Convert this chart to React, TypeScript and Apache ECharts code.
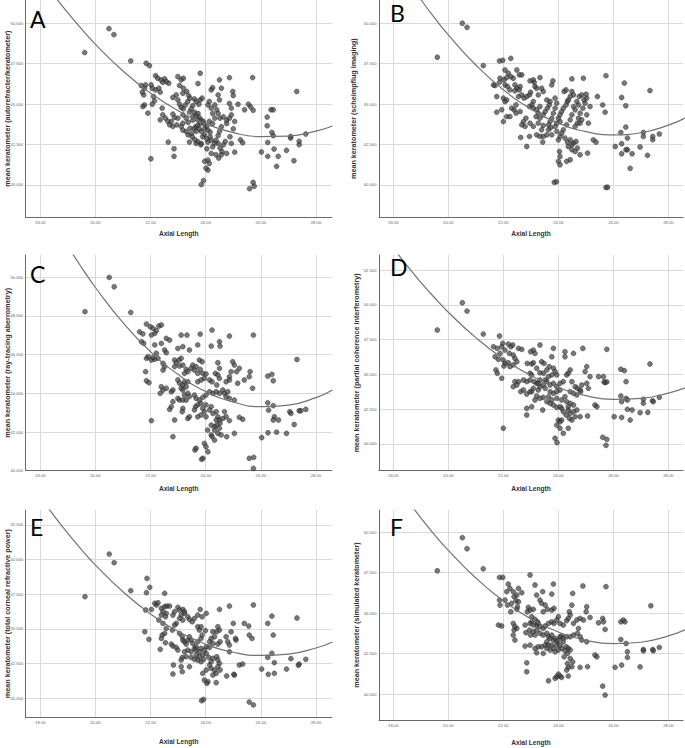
import React, { useEffect, useRef } from "react";
import * as echarts from "echarts";

// ---------- DATA ----------
const xTicks = [18, 20, 22, 24, 26, 28];
const yTicks25 = [40, 42.5, 45, 47.5, 50];
const yTicksC = [40, 42, 44, 46, 48, 50];
const yTicks25Hi = [40, 42.5, 45, 47.5, 50, 52.5];

const fitX = [18, 18.5, 19, 19.5, 20, 21, 22, 23, 24, 25, 26, 27, 28, 28.6];
const fitA = [52.85, 51.71, 50.64, 49.64, 48.7, 47.05, 45.68, 44.59, 43.78, 43.24, 42.99, 43.02, 43.33, 43.65];
const fitB = [53.99, 52.69, 51.47, 50.33, 49.28, 47.42, 45.89, 44.7, 43.83, 43.3, 43.1, 43.23, 43.7, 44.14];
const fitC = [54.05, 52.79, 51.6, 50.5, 49.47, 47.65, 46.15, 44.97, 44.1, 43.55, 43.31, 43.39, 43.78, 44.17];
const fitD = [54.08, 52.81, 51.62, 50.51, 49.47, 47.64, 46.12, 44.92, 44.04, 43.47, 43.21, 43.28, 43.66, 44.04];
const fitE = [54.51, 53.16, 51.89, 50.71, 49.61, 47.68, 46.08, 44.82, 43.9, 43.32, 43.09, 43.19, 43.63, 44.06];
const fitF = [53.19, 51.99, 50.88, 49.83, 48.87, 47.16, 45.75, 44.64, 43.83, 43.32, 43.11, 43.2, 43.59, 43.96];

const pointsA: number[][] = [
  [19.61,48.19],[20.49,49.67],[20.67,49.3],[21.28,47.67],
  [21.84,47.53],[21.96,47.38],[22.18,46.76],[22.26,46.6],[22.38,46.5],[22.51,46.56],[22.57,46.39],[22.66,46.29],[22.44,46.35],
  [21.66,46.15],[21.82,46.19],[21.78,45.98],[22.02,46.19],[22.06,45.98],[22.18,45.88],[22.3,45.98],[22.35,45.74],[21.7,45.74],
  [21.75,45.57],[22.11,45.47],[22.14,45.2],[22.06,44.99],[21.78,44.95],[21.72,44.85],[21.9,44.44],[22.42,44.75],[22.44,44.34],
  [22.54,44.13],[22.35,44.03],[22.63,43.93],[22.81,44.38],[22.87,44.17],[22.75,43.93],[22.69,43.72],[22.81,43.62],[22.95,43.72],
  [23.11,43.62],[23.17,43.82],[22.99,46.7],[23.11,46.5],[23.19,46.6],[23.05,46.15],[23.19,45.98],[23.17,45.67],[23.31,45.78],
  [23.38,45.53],[22.93,45.57],[22.81,45.41],[22.99,45.26],[23.05,44.99],[23.11,44.79],[23.19,44.71],[23.26,44.95],[23.35,45.16],
  [23.43,45.37],[23.59,45.32],[23.65,45.16],[23.75,44.99],[23.8,45.26],[23.87,45.37],[23.53,44.91],[23.47,44.71],[23.41,44.5],
  [23.59,44.5],[23.65,44.3],[23.72,44.42],[23.77,44.17],[23.84,44.01],[23.91,43.93],[23.8,43.8],[23.71,43.68],[23.63,43.6],
  [23.58,43.47],[23.77,43.47],[23.84,43.31],[23.96,43.47],[24.04,43.64],[24.08,43.39],[24.16,43.27],[23.96,43.1],[23.89,42.98],
  [24.04,42.85],[24.16,42.98],[24.2,42.77],[24.08,42.65],[23.84,42.57],[23.71,42.69],[23.6,42.81],[23.41,42.65],[23.36,43.1],
  [23.29,43.31],[23.17,43.39],[23.43,43.51],[23.48,43.18],[23.53,44.01],[23.36,43.88],[24.13,43.93],[24.25,43.8],[24.33,44.13],
  [24.25,44.42],[24.2,44.75],[24.08,44.95],[24.13,45.16],[24.2,45.88],[24.25,46.02],[24.45,45.57],[24.5,45.26],[24.57,45.98],
  [24.5,46.5],[24.86,46.64],[25.7,46.64],[23.8,46.91],[23.72,46.27],[24.33,44.95],[24.4,44.65],[24.45,44.42],[24.52,44.13],
  [24.64,44.21],[24.76,44.01],[24.86,44.13],[24.76,43.8],[24.57,43.6],[24.5,43.31],[24.45,43.06],[24.37,42.77],[24.32,42.57],
  [24.25,42.36],[24.45,42.57],[24.52,42.28],[24.59,42.07],[24.64,42.48],[24.71,42.69],[24.57,41.87],[24.47,41.66],[24.37,41.87],
  [24.2,41.95],[24.04,42.24],[24.08,41.54],[23.96,41.46],[24.13,41.33],[24.08,40.92],[24.01,41.04],[24.76,41.95],[25.05,42.03],
  [24.93,42.57],[24.88,42.98],[25.0,43.47],[25.05,43.93],[24.93,44.34],[24.93,44.75],[24.86,45.04],[25.0,45.53],[24.98,45.78],
  [25.17,44.99],[25.41,44.65],[25.55,44.99],[25.63,44.83],[25.72,44.62],[25.26,42.79],[25.34,42.61],[22.64,42.65],[22.85,42.24],
  [22.85,41.77],[22.01,41.62],[23.65,42.57],[23.82,42.48],[23.53,44.23],[23.71,44.03],[23.95,43.76],[23.65,43.31],[23.51,42.98],
  [23.17,44.34],[22.99,44.13],[23.29,44.13],
  [23.84,40.02],[23.92,40.27],[25.59,39.77],[25.72,40.16],[25.76,39.92],[26.02,42.04],[26.25,41.77],[26.25,42.63],[26.48,42.22],
  [26.57,41.15],[26.63,41.77],[26.93,42.14],[27.2,41.5],[27.08,43.0],[27.08,42.9],[27.39,42.49],[27.39,42.7],[27.63,43.15],
  [26.23,44.2],[26.23,43.66],[26.37,44.65],[26.45,44.65],[26.4,43.25],[26.45,43.05],[27.3,45.78]
];

const pointsB: number[][] = [
  [19.6,47.9],[20.51,50.0],[20.68,49.75],[21.27,47.38],[23.85,40.16],[23.93,40.2],
  [21.86,47.67],[21.98,47.71],[22.27,47.83],[22.06,47.11],[22.18,46.91],[22.12,46.64],[22.02,46.5],[21.88,46.6],[21.86,46.35],
  [21.7,46.15],[21.64,46.19],[22.06,46.19],[22.15,46.09],[22.27,46.7],[22.36,46.6],[22.49,47.11],[22.58,46.81],[22.67,46.81],
  [22.42,46.19],[22.49,45.98],[22.61,46.09],[22.58,45.88],[22.42,45.82],[22.24,45.88],[21.76,45.47],[22.0,45.37],[22.06,45.16],
  [22.12,45.26],[21.94,44.65],[21.76,44.5],[22.12,44.23],[22.0,43.92],[22.39,44.65],[22.46,44.44],[22.46,44.95],[22.55,45.47],
  [22.67,45.57],[22.75,45.37],[22.85,45.47],[22.95,45.57],[22.99,45.74],[22.97,46.44],[23.12,46.35],[23.15,46.09],[23.21,45.98],
  [23.09,46.5],[23.33,46.64],[23.39,45.98],[23.45,45.78],[23.27,45.57],[23.09,45.16],[23.03,44.95],[22.95,44.85],[23.09,44.75],
  [23.21,44.65],[23.33,44.85],[23.27,44.44],[23.19,44.23],[23.33,44.13],[23.45,44.34],[23.52,44.54],[23.6,44.75],[23.67,44.95],
  [23.7,45.16],[23.58,45.26],[23.76,46.19],[23.8,46.44],[23.88,45.37],[23.94,45.06],[23.88,44.75],[23.82,44.44],[23.76,44.13],
  [23.7,43.92],[23.64,43.72],[23.72,43.55],[23.88,43.62],[23.94,43.82],[24.06,43.92],[24.0,44.13],[24.06,44.34],[24.12,44.54],
  [24.18,44.75],[24.28,44.95],[24.33,45.16],[24.21,45.78],[24.28,45.88],[24.49,46.56],[24.49,45.78],[24.43,45.47],[24.36,45.26],
  [24.55,44.85],[24.61,44.65],[24.49,44.34],[24.43,44.03],[24.3,43.72],[24.18,43.41],[24.12,43.2],[24.06,43.0],[24.0,42.79],
  [23.94,43.31],[23.76,43.1],[23.58,43.1],[23.45,43.0],[23.33,43.0],[23.21,43.1],[22.95,43.0],[22.85,42.38],[22.63,42.94],
  [23.43,42.65],[23.64,43.41],[24.24,42.9],[24.33,42.65],[24.43,42.79],[24.49,42.48],[24.36,42.38],[24.49,42.18],[24.55,42.59],
  [24.64,42.69],[24.69,42.28],[24.61,42.07],[24.79,41.87],[25.06,41.97],[24.43,41.56],[24.3,41.46],[24.04,42.07],[24.06,41.76],
  [24.0,41.46],[24.06,41.25],[24.67,45.16],[24.73,44.95],[24.76,45.47],[24.85,45.57],[24.93,45.26],[25.03,45.37],[24.97,45.06],
  [24.89,44.75],[24.79,44.44],[24.73,44.13],[24.69,43.82],[24.61,43.62],[24.79,43.82],[24.85,44.03],[25.03,44.34],[25.09,43.82],
  [25.15,44.85],[25.01,45.61],[24.91,46.6],[24.55,45.57],[25.42,45.47],[25.61,44.95],[25.7,44.5],[25.73,46.76],[25.27,42.79],
  [25.37,42.65],[26.07,42.38],[22.97,43.82],[23.09,43.62],[22.82,44.13],[22.73,43.92],[22.67,43.72],[22.79,43.62],[22.61,44.54],
  [22.24,44.23],[22.3,44.75],[23.45,43.68],[23.27,43.82],[23.39,43.41],
  [26.4,46.3],[26.3,45.41],[26.45,44.9],[26.45,43.58],[26.27,43.25],[26.51,42.9],[26.3,42.55],[26.3,41.93],[26.46,42.18],
  [26.51,42.18],[26.68,41.93],[26.61,41.03],[26.97,42.35],[27.09,43.25],[27.09,43.0],[27.24,41.83],[27.43,43.0],[27.43,42.8],
  [27.67,43.15],[27.33,45.84],[25.73,39.84],[25.79,39.86]
];

const pointsC: number[][] = [
  [19.62,48.22],[20.5,49.99],[20.68,49.51],[21.28,48.18],
  [21.85,47.58],[21.99,47.44],[22.09,47.36],[22.3,47.48],[22.39,47.53],[22.15,47.1],[22.03,47.01],[22.21,47.24],[21.6,47.18],
  [21.72,47.07],[21.67,46.67],[21.75,46.58],[22.15,46.5],[22.39,46.58],[22.57,46.84],[22.69,46.75],[23.11,47.01],[23.32,47.01],
  [23.8,47.06],[24.23,47.27],[24.86,46.96],[25.73,47.01],[22.99,46.32],[23.17,46.41],[23.41,46.24],[23.71,46.5],[24.2,46.44],
  [24.5,46.67],[24.52,46.44],[22.51,46.24],[22.57,46.1],[22.21,46.07],[22.27,45.81],[22.15,45.76],[22.03,45.72],[21.91,45.89],
  [21.85,45.81],[22.09,45.86],[22.45,45.55],[22.51,45.38],[22.87,45.72],[22.93,45.58],[23.03,45.72],[23.11,45.81],[23.05,45.41],
  [22.87,45.38],[23.17,45.46],[23.29,45.24],[23.23,45.03],[23.35,45.12],[23.47,45.29],[23.53,45.46],[23.59,45.2],[23.65,45.38],
  [23.77,45.72],[23.87,45.63],[23.71,45.03],[23.8,45.24],[23.89,45.03],[24.01,45.0],[23.95,44.77],[23.83,44.69],[23.71,44.6],
  [24.14,44.69],[24.23,44.6],[24.35,45.03],[24.44,44.95],[24.5,45.29],[24.44,45.58],[24.4,44.43],[24.5,44.77],[24.74,44.6],
  [24.86,44.69],[24.98,45.63],[25.04,45.46],[25.12,45.12],[24.92,45.12],[24.86,44.86],[25.16,44.52],[25.4,44.69],[25.58,44.86],
  [25.61,45.12],[25.7,44.26],[25.22,45.29],[21.82,45.12],[21.85,44.65],[21.94,44.55],[22.45,45.2],[22.39,44.34],[22.45,44.17],
  [22.35,44.0],[22.57,44.26],[22.75,44.08],[22.81,44.17],[22.99,44.69],[23.05,44.52],[23.17,44.43],[23.23,44.6],[23.35,44.6],
  [23.29,44.34],[23.17,44.17],[23.11,44.26],[23.23,43.91],[23.35,44.0],[22.99,43.74],[23.05,43.65],[23.17,43.65],[23.29,43.65],
  [23.41,43.83],[23.59,43.91],[23.65,43.74],[23.77,43.65],[23.89,43.79],[24.01,43.91],[24.14,44.08],[24.26,44.0],[24.38,44.08],
  [24.5,44.0],[24.62,44.17],[24.68,44.0],[24.74,43.83],[24.8,44.08],[24.86,43.74],[25.04,43.65],[23.63,43.31],[23.71,43.4],
  [23.83,43.48],[23.89,43.22],[24.01,43.4],[24.14,43.14],[24.2,43.31],[24.26,42.96],[24.38,43.05],[24.01,42.79],[23.95,43.05],
  [23.83,42.88],[23.71,42.79],[23.59,43.14],[22.81,43.57],[22.75,43.31],[22.69,43.17],[23.17,43.22],[23.15,43.05],[23.35,42.7],
  [23.41,42.79],[22.87,42.62],[22.03,42.59],[24.44,42.79],[24.5,42.62],[24.52,42.45],[24.4,42.36],[24.32,42.28],[24.38,42.62],
  [24.62,42.7],[24.74,42.79],[24.86,42.59],[24.68,43.05],[24.5,42.19],[24.32,42.1],[24.2,41.85],[24.23,41.76],[24.07,42.1],
  [24.2,42.36],[24.44,41.93],[24.56,41.85],[24.76,41.76],[25.04,41.93],[25.22,42.76],[25.34,42.66],[22.81,41.76],[23.95,41.41],
  [24.01,41.24],[23.65,41.16],
  [23.61,41.07],[23.85,40.59],[23.9,40.64],[24.08,40.98],[24.32,41.58],[25.58,40.64],[25.74,40.69],[25.73,40.12],
  [27.31,45.75],[26.25,44.89],[26.4,44.98],[26.45,44.65],[26.25,43.51],[26.28,43.13],[26.45,43.36],[26.49,42.79],[26.45,42.62],
  [26.64,42.62],[26.03,41.71],[26.26,41.96],[26.57,41.99],[26.93,41.93],[27.05,43.05],[27.09,42.96],[27.21,42.39],[27.39,43.1],
  [27.45,43.1],[27.63,43.17]
];

const pointsD: number[][] = [
  [19.6,48.19],[20.51,50.15],[20.68,49.55],[21.27,47.9],
  [21.86,47.76],[21.64,46.99],[21.78,46.87],[21.98,47.23],[21.94,46.99],[22.06,46.75],[22.18,47.18],[22.27,46.99],[22.34,47.11],
  [22.22,46.51],[22.36,46.39],[21.88,46.51],[21.7,46.27],[21.82,46.08],[22.0,46.03],[22.06,45.79],[22.18,45.84],[22.42,46.15],
  [22.55,46.87],[22.67,46.8],[22.49,45.91],[22.36,45.68],[22.24,45.56],[21.73,45.32],[21.78,45.08],[21.94,44.72],[22.02,45.6],
  [22.99,46.63],[23.09,46.75],[23.15,46.51],[23.33,47.11],[23.82,46.87],[23.76,46.27],[24.24,46.63],[24.24,46.27],[24.55,46.51],
  [24.89,46.87],[25.76,46.8],[22.87,45.79],[23.03,45.75],[23.09,45.84],[23.39,45.91],[23.48,45.79],[23.21,45.44],[23.33,45.12],
  [23.46,45.08],[23.58,45.32],[23.67,45.56],[23.82,45.44],[23.88,45.2],[23.94,44.96],[23.76,44.96],[23.64,44.84],[23.52,44.6],
  [23.33,44.6],[23.21,44.36],[23.12,44.48],[22.97,44.6],[22.85,44.48],[22.97,45.08],[23.03,44.96],[22.73,44.6],[22.55,44.48],
  [22.49,44.24],[22.42,44.48],[22.36,44.12],[22.63,43.76],[22.73,43.88],[22.85,43.59],[22.97,43.76],[23.09,44.0],[23.27,43.88],
  [23.33,44.12],[23.45,44.24],[23.58,44.48],[23.7,44.24],[23.82,44.36],[23.94,44.12],[24.06,44.36],[24.18,44.48],[24.06,43.88],
  [23.94,43.76],[23.82,43.64],[23.7,43.76],[23.64,43.4],[23.76,43.16],[23.94,43.28],[24.12,43.16],[24.24,43.4],[24.3,43.04],
  [24.43,42.92],[24.55,42.8],[24.36,45.08],[24.43,45.32],[24.3,44.96],[24.49,44.48],[24.61,44.12],[24.69,44.0],[24.79,43.88],
  [24.85,44.24],[25.03,44.36],[24.43,43.76],[24.55,43.64],[24.67,43.52],[24.81,43.76],[25.09,44.0],[25.15,44.84],[25.03,45.56],
  [24.97,45.2],[25.46,44.84],[25.64,44.84],[25.7,44.41],[24.36,42.44],[24.43,42.2],[24.55,42.32],[24.61,41.96],[24.49,41.72],
  [24.4,41.84],[24.28,42.08],[24.18,42.32],[24.12,42.56],[24.06,42.68],[23.94,42.63],[23.82,42.8],[23.7,42.92],[23.58,43.04],
  [23.45,43.35],[23.33,43.28],[23.21,43.45],[23.15,43.16],[23.03,42.68],[23.43,42.44],[22.85,42.56],[22.85,42.08],[24.36,42.68],
  [24.67,42.44],[24.79,41.96],[25.06,42.01],[25.33,42.8],[25.4,42.68],[24.0,41.72],[24.06,41.6],[24.12,41.72],[23.94,41.36],
  [24.36,41.13],[24.18,40.77],[24.06,41.13],[22.0,41.13],[23.88,40.41],[25.61,40.48],[25.76,40.33],[26.03,41.96],[23.03,43.76],
  [23.52,44.0],[23.27,44.36],
  [23.95,40.1],[25.73,39.9],
  [26.27,45.37],[26.4,45.27],[26.46,44.48],[26.27,43.45],[26.46,43.28],[26.51,43.16],[26.3,43.04],[26.51,42.49],[26.68,42.44],
  [26.61,41.72],[26.3,41.91],[26.97,42.25],[27.09,43.21],[27.09,42.92],[27.25,42.27],[27.42,43.11],[27.45,43.04],[27.67,43.35],
  [27.33,45.75],[25.66,44.46],[25.76,44.46]
];

const pointsE: number[][] = [
  [19.62,47.33],[20.5,50.4],[20.68,49.78],
  [21.87,48.65],[21.97,48.0],[21.85,47.62],[21.28,47.76],[22.51,47.57],[21.82,46.37],[22.03,46.41],[22.15,46.85],[22.21,46.73],
  [22.27,46.89],[22.39,46.49],[22.51,46.61],[22.59,46.65],[22.69,46.65],[22.45,46.25],[22.57,46.12],[22.39,46.0],[22.3,45.64],
  [22.45,45.4],[22.54,45.88],[22.81,46.0],[22.87,46.25],[22.99,46.56],[23.05,46.37],[23.17,46.41],[23.23,46.25],[23.11,46.0],
  [23.05,45.76],[23.17,45.64],[23.23,46.12],[23.35,45.88],[23.41,45.69],[23.51,45.52],[23.59,45.76],[23.71,46.0],[23.8,46.41],
  [23.87,45.88],[24.02,46.12],[24.5,46.41],[24.86,46.65],[25.73,46.73],[22.93,45.4],[22.87,45.28],[22.79,44.92],[22.57,45.04],
  [22.51,44.68],[22.42,44.56],[22.39,44.32],[22.35,43.53],[22.54,44.01],[22.75,43.91],[22.81,43.77],[22.93,43.67],[22.99,43.48],
  [23.05,44.68],[23.15,44.44],[23.17,44.2],[23.23,44.08],[23.29,43.91],[23.35,44.2],[23.41,44.44],[23.47,44.2],[23.53,43.96],
  [23.65,43.72],[23.71,44.08],[23.83,44.32],[23.87,44.56],[23.77,44.92],[23.71,45.16],[23.83,45.16],[23.99,44.88],[24.2,44.32],
  [24.32,44.44],[24.4,44.8],[24.44,45.16],[24.5,44.92],[24.26,44.8],[24.14,44.08],[24.26,43.96],[24.44,43.91],[24.52,44.08],
  [24.8,44.08],[24.86,43.84],[24.74,44.44],[24.92,44.8],[25.0,45.4],[25.1,44.2],[25.08,44.32],[25.4,45.4],[25.56,45.21],
  [25.58,44.56],[25.68,44.32],[24.86,43.36],[23.59,43.6],[23.65,43.48],[23.77,43.36],[23.83,43.6],[23.95,43.48],[24.02,43.72],
  [24.14,43.67],[24.02,43.24],[23.89,43.12],[23.77,43.0],[23.65,43.12],[23.47,43.36],[23.35,43.48],[23.23,43.36],[23.15,42.95],
  [23.11,42.76],[23.29,43.0],[23.47,42.95],[23.59,42.81],[23.71,42.76],[23.83,42.64],[23.92,42.81],[24.11,42.95],[24.2,42.64],
  [24.26,42.88],[24.4,43.0],[24.44,42.76],[24.5,42.52],[24.14,42.4],[24.2,42.16],[24.32,42.04],[24.44,42.28],[24.52,42.04],
  [24.38,41.8],[24.26,41.68],[24.02,42.04],[23.89,41.8],[23.41,42.28],[23.11,42.28],[22.83,42.4],[23.15,41.92],[22.81,41.75],
  [24.76,41.61],[25.04,41.68],[25.22,42.4],[25.34,42.47],[23.95,41.32],[24.08,41.2],[24.04,41.08],[24.38,41.13],[21.79,44.8],
  [21.94,44.25],
  [23.85,39.83],[23.92,39.92],[25.58,39.73],[25.73,39.52],
  [27.31,45.79],[26.4,45.93],[26.25,45.4],[26.45,44.56],[26.4,43.24],[26.25,42.95],[26.49,42.57],[26.49,41.8],[26.27,41.73],
  [26.03,42.11],[26.93,42.11],[27.09,42.86],[27.39,42.47],[27.36,42.38],[27.63,42.81],[25.02,41.73]
];

const pointsF: number[][] = [
  [19.6,47.61],[20.51,49.65],[20.68,48.97],[21.27,47.73],
  [21.86,47.2],[21.98,47.2],[22.97,47.35],[22.18,46.79],[22.24,46.52],[22.12,46.32],[22.36,46.32],[22.39,46.01],[22.49,46.11],
  [22.55,46.52],[22.67,46.26],[22.46,45.76],[22.55,45.7],[22.3,45.6],[22.06,45.8],[21.86,45.8],[21.88,45.49],[22.15,45.49],
  [22.27,45.08],[22.49,45.23],[22.51,45.39],[23.15,46.73],[23.21,46.11],[23.43,46.32],[23.82,46.79],[23.76,46.17],[24.52,46.21],
  [24.89,46.67],[25.73,46.63],[23.33,45.8],[23.39,45.6],[23.52,45.49],[23.45,45.08],[23.6,45.23],[23.76,45.18],[23.84,45.29],
  [22.91,45.35],[22.97,45.18],[23.09,45.23],[22.87,45.08],[23.03,44.77],[23.15,44.61],[23.24,44.46],[23.03,44.46],[22.97,44.36],
  [23.09,44.26],[23.21,44.26],[23.27,44.36],[23.33,44.16],[23.45,44.05],[23.52,44.2],[23.64,44.36],[23.76,44.46],[23.84,44.36],
  [23.94,44.57],[24.0,44.77],[24.06,44.36],[24.18,44.26],[24.3,44.53],[24.36,44.67],[24.4,45.08],[24.49,45.49],[24.43,44.88],
  [24.55,44.36],[24.67,44.57],[24.79,44.67],[24.73,44.05],[24.91,44.57],[25.03,45.39],[25.01,45.08],[25.15,44.73],[25.46,44.4],
  [25.61,44.67],[25.64,44.46],[25.7,43.99],[21.82,44.26],[21.94,44.2],[22.36,44.36],[22.42,44.16],[22.39,43.95],[22.49,44.05],
  [22.36,43.64],[22.42,43.33],[22.79,44.26],[22.82,43.79],[22.95,43.95],[22.99,43.64],[23.09,43.85],[23.15,43.64],[23.21,43.95],
  [23.33,43.75],[23.45,43.64],[23.58,43.75],[23.64,43.54],[23.7,43.44],[23.76,43.64],[23.82,43.33],[23.88,43.44],[23.94,43.23],
  [24.0,43.33],[24.06,43.54],[24.12,43.58],[24.18,43.44],[24.3,43.54],[24.43,43.54],[24.55,43.64],[24.69,43.75],[24.79,43.54],
  [24.85,43.33],[25.03,43.23],[23.58,43.23],[23.52,43.02],[23.64,43.02],[23.76,43.02],[23.82,42.82],[23.94,43.02],[24.06,43.02],
  [24.18,43.23],[24.28,42.92],[24.36,42.82],[24.43,42.72],[24.33,42.51],[24.24,42.67],[24.12,42.82],[24.0,42.72],[23.88,42.61],
  [23.7,42.72],[23.58,42.82],[23.39,42.92],[23.27,42.92],[23.15,42.82],[22.97,43.02],[22.79,42.96],[23.21,42.55],[23.45,42.51],
  [24.21,42.3],[24.43,42.2],[24.52,41.99],[24.33,41.89],[24.36,41.65],[24.3,41.48],[24.49,41.69],[24.79,41.65],[25.06,41.69],
  [25.33,42.41],[25.4,42.3],[22.85,41.93],[22.85,41.38],[23.94,41.07],[24.0,41.23],[24.06,41.11],[24.12,41.03],[23.88,40.97],
  [24.36,41.11],[23.64,40.82],[25.61,40.49],[25.7,39.94],[26.06,41.65],
  [27.36,45.45],[26.27,44.46],[26.36,44.57],[26.42,44.46],[26.27,43.37],[26.46,43.12],[26.51,42.61],[26.51,42.26],[26.3,41.79],
  [26.97,41.68],[27.09,42.75],[27.09,42.67],[27.43,42.75],[27.45,42.67],[27.67,42.88]
];

// ---------- LAYOUT / STYLE ----------
type Panel = {
  letter: string; yName: string; points: number[][]; fit: number[];
  left: number; top: number; width: number; height: number;
  xMin: number; xMax: number; yMin: number; yMax: number; yTicks: number[];
  xNameGap: number; yNameGap: number; lx: number; ly: number;
};

const panels: Panel[] = [
  { letter: "A", yName: "mean keratometer (autorefracter/keratometer)", points: pointsA, fit: fitA,
    left: 25.7, top: 0, width: 306, height: 217.3, xMin: 17.47, xMax: 28.57, yMin: 38.0, yMax: 51.44, yTicks: yTicks25,
    xNameGap: 12.5, yNameGap: 14.5, lx: 30, ly: 7 },
  { letter: "B", yName: "mean keratometer (scheimpflug imaging)", points: pointsB, fit: fitB,
    left: 379, top: 0, width: 304, height: 217.3, xMin: 17.48, xMax: 28.53, yMin: 38.0, yMax: 51.44, yTicks: yTicks25,
    xNameGap: 12.5, yNameGap: 21.5, lx: 390, ly: 1 },
  { letter: "C", yName: "mean keratometer (ray-tracing aberrometry)", points: pointsC, fit: fitC,
    left: 25.7, top: 255, width: 306, height: 215.7, xMin: 17.47, xMax: 28.57, yMin: 40, yMax: 51.15, yTicks: yTicksC,
    xNameGap: 14, yNameGap: 14.5, lx: 30, ly: 262 },
  { letter: "D", yName: "mean keratometer (partial coherence interferometry)", points: pointsD, fit: fitD,
    left: 379, top: 255, width: 304, height: 215.7, xMin: 17.48, xMax: 28.53, yMin: 38.08, yMax: 53.58, yTicks: yTicks25Hi,
    xNameGap: 14, yNameGap: 18.5, lx: 390, ly: 255 },
  { letter: "E", yName: "mean keratometer (total corneal refractive power)", points: pointsE, fit: fitE,
    left: 25.7, top: 510, width: 306, height: 207.3, xMin: 17.47, xMax: 28.57, yMin: 38.63, yMax: 53.58, yTicks: yTicks25Hi,
    xNameGap: 21, yNameGap: 14.5, lx: 30, ly: 515 },
  { letter: "F", yName: "mean keratometer (simulated keratometer)", points: pointsF, fit: fitF,
    left: 379, top: 510, width: 304, height: 210, xMin: 17.48, xMax: 28.53, yMin: 38.4, yMax: 51.36, yTicks: yTicks25,
    xNameGap: 19, yNameGap: 19, lx: 390, ly: 515 },
];

const FONT = "'Liberation Sans', Arial, sans-serif";
const gridColor = "#d9d9d9";
const axisColor = "#6a6a6a";

function buildOption() {
  const grid: any[] = [];
  const xAxis: any[] = [];
  const yAxis: any[] = [];
  const series: any[] = [];
  const graphic: any[] = [];
  panels.forEach((p, i) => {
    grid.push({ left: p.left, top: p.top, width: p.width, height: p.height, containLabel: false, outerBoundsMode: "none" });
    xAxis.push({
      type: "value", gridIndex: i, min: p.xMin, max: p.xMax,
      name: "Axial Length", nameLocation: "middle", nameGap: p.xNameGap,
      nameTextStyle: { fontSize: 6.6, fontWeight: "bold", color: "#333", fontFamily: FONT },
      axisLine: { show: true, onZero: false, lineStyle: { color: axisColor, width: 1 } },
      axisTick: { show: false, customValues: xTicks },
      axisLabel: { customValues: xTicks, fontSize: 4.2, color: "#666", margin: 3, fontFamily: FONT,
        formatter: (v: number) => v.toFixed(2) },
      splitLine: { show: true, lineStyle: { color: gridColor, width: 1 } },
    });
    yAxis.push({
      type: "value", gridIndex: i, min: p.yMin, max: p.yMax,
      name: p.yName, nameLocation: "middle", nameGap: p.yNameGap, nameRotate: 90, nameMoveOverlap: false,
      nameTextStyle: { fontSize: 7.2, fontWeight: "bold", color: "#333", fontFamily: FONT, lineHeight: 8 },
      axisLine: { show: true, onZero: false, lineStyle: { color: axisColor, width: 1 } },
      axisTick: { show: false, customValues: p.yTicks },
      axisLabel: { customValues: p.yTicks, fontSize: 4.2, color: "#666", margin: 2.5, fontFamily: FONT,
        formatter: (v: number) => v.toFixed(3) },
      splitLine: { show: true, lineStyle: { color: gridColor, width: 1 } },
    });
    series.push({
      type: "scatter", xAxisIndex: i, yAxisIndex: i, data: p.points, symbolSize: 5,
      itemStyle: { color: "rgba(62,62,62,0.88)", borderColor: "rgba(30,30,30,0.9)", borderWidth: 0.5 },
      z: 2,
    });
    series.push({
      type: "line", xAxisIndex: i, yAxisIndex: i, data: fitX.map((x, k) => [x, p.fit[k]]),
      showSymbol: false, smooth: true, clip: true,
      lineStyle: { color: "#737373", width: 1.2 }, z: 3,
    });
    graphic.push({
      type: "text", left: p.lx, top: p.ly, z: 10,
      style: { text: p.letter, fontSize: 23, fill: "#000", fontFamily: "Lato, 'Liberation Sans', sans-serif" },
    });
  });
  return { animation: false, backgroundColor: "#fff", grid, xAxis, yAxis, series, graphic };
}

export default function App() {
  const ref = useRef<HTMLDivElement>(null);
  useEffect(() => {
    if (!ref.current) return;
    const chart = echarts.init(ref.current, undefined, { renderer: "svg" });
    chart.setOption(buildOption() as any);
    return () => chart.dispose();
  }, []);
  return (
    <div
      ref={ref}
      style={{ position: "fixed", left: 0, top: 0, width: 685, height: 748, background: "#fff" }}
    />
  );
}
